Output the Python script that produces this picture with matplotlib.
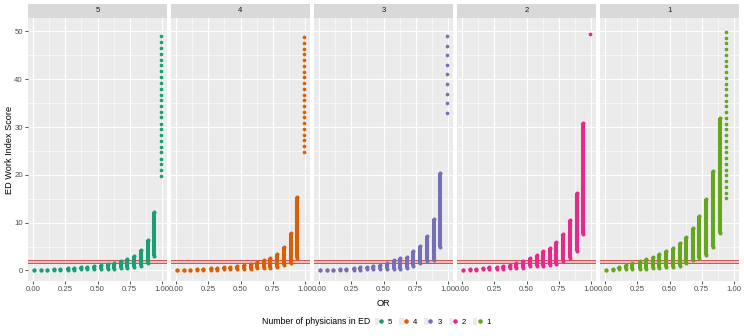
import numpy as np
import matplotlib
matplotlib.use("Agg")
import matplotlib.pyplot as plt
from matplotlib.patches import Patch
from matplotlib.lines import Line2D
from matplotlib.legend_handler import HandlerTuple

plt.rcParams['font.family'] = ['Liberation Sans', 'DejaVu Sans']

# ---------------- data ----------------
panels = ["5", "4", "3", "2", "1"]
colors = ["#1B9E77", "#D95F02", "#7570B3", "#E7298A", "#66A61E"]
or_values = [0.01, 0.06, 0.11, 0.16, 0.21, 0.27, 0.32, 0.37, 0.42, 0.47,
             0.53, 0.58, 0.63, 0.68, 0.73, 0.78, 0.84, 0.89, 0.94, 0.99]

# dense columns: lowest / highest score per OR value (NaN = no dense column)
low_5 = [0.05, 0.08, 0.1, 0.12, 0.15, 0.2, 0.2, 0.25, 0.3, 0.3, 0.35, 0.4, 0.4, 0.45, 0.5, 0.7, 1.0, 1.5, 3.0, np.nan]
high_5 = [0.1, 0.15, 0.2, 0.25, 0.35, 0.45, 0.6, 0.7, 0.8, 1.0, 1.1, 1.3, 1.6, 1.9, 2.4, 3.1, 4.3, 6.3, 12.3, np.nan]
low_4 = [0.05, 0.08, 0.1, 0.12, 0.15, 0.2, 0.2, 0.25, 0.3, 0.3, 0.35, 0.4, 0.45, 0.5, 0.6, 0.8, 1.1, 1.6, 2.6, np.nan]
high_4 = [0.1, 0.15, 0.2, 0.25, 0.35, 0.45, 0.6, 0.7, 0.8, 1.0, 1.2, 1.4, 1.7, 2.1, 2.7, 3.5, 5.0, 7.9, 15.3, np.nan]
low_3 = [0.05, 0.08, 0.1, 0.12, 0.15, 0.2, 0.2, 0.25, 0.3, 0.3, 0.35, 0.35, 0.35, 0.6, 0.85, 1.5, 1.9, 2.1, 4.9, np.nan]
high_3 = [0.1, 0.15, 0.2, 0.3, 0.4, 0.5, 0.65, 0.8, 0.95, 1.2, 1.6, 2.2, 2.6, 2.9, 4.0, 5.2, 7.2, 10.8, 20.3, np.nan]
low_2 = [0.1, 0.15, 0.2, 0.25, 0.3, 0.35, 0.4, 0.45, 0.5, 0.6, 0.85, 0.85, 0.9, 1.1, 1.4, 1.9, 2.6, 4.0, 7.6, np.nan]
high_2 = [0.15, 0.25, 0.35, 0.5, 0.65, 0.8, 1.0, 1.2, 1.5, 1.9, 2.6, 3.3, 4.0, 4.8, 6.0, 7.6, 10.6, 16.2, 30.9, np.nan]
low_1 = [0.1, 0.2, 0.3, 0.3, 0.3, 0.3, 0.4, 0.5, 0.6, 0.7, 0.8, 1.0, 1.5, 2.2, 2.6, 3.3, 5.0, 7.8, np.nan, np.nan]
high_1 = [0.2, 0.4, 0.8, 1.2, 1.6, 2.0, 2.4, 2.8, 3.4, 4.0, 4.8, 5.8, 7.1, 8.8, 11.3, 14.9, 20.7, 31.8, np.nan, np.nan]

# sparse columns: individual scores
sparse_or_5 = 0.99
sparse_5 = [19.8, 21.0, 22.2, 23.4, 24.7, 25.9, 27.1, 28.3, 29.5, 30.7, 32.0, 33.2, 34.4,
            35.6, 36.8, 38.0, 39.2, 40.5, 41.7, 42.9, 44.1, 45.3, 46.5, 47.8, 49.0]
sparse_or_4 = 0.99
sparse_4 = [24.8, 26.0, 27.2, 28.4, 29.6, 30.8, 32.0, 33.2, 34.4, 35.6, 36.8, 38.0, 39.2,
            40.4, 41.6, 42.8, 44.0, 45.2, 46.4, 47.6, 48.8]
sparse_or_3 = 0.99
sparse_3 = [33.0, 35.0, 37.0, 39.0, 41.0, 43.0, 45.0, 47.0, 49.0]
sparse_or_2 = 0.99
sparse_2 = [49.5]
sparse_or_1 = 0.94
sparse_1 = [15.1, 16.3, 17.5, 18.7, 19.9, 21.1, 22.3, 23.5, 24.7, 25.9, 27.1, 28.3, 29.5,
            30.7, 31.9, 33.1, 34.3, 35.5, 36.7, 37.9, 39.1, 40.3, 41.5, 42.7, 43.9, 45.1,
            46.3, 47.5, 48.7, 49.9]

threshold_low = 1.55
threshold_high = 2.15

lows = [low_5, low_4, low_3, low_2, low_1]
highs = [high_5, high_4, high_3, high_2, high_1]
sparse_x = [sparse_or_5, sparse_or_4, sparse_or_3, sparse_or_2, sparse_or_1]
sparse_y = [sparse_5, sparse_4, sparse_3, sparse_2, sparse_1]

x_ticks = [0.0, 0.25, 0.5, 0.75, 1.0]
x_ticklabels = ["0.00", "0.25", "0.50", "0.75", "1.00"]
y_ticks = [0, 10, 20, 30, 40, 50]

# ---------------- figure ----------------
W, H = 744, 336
fig = plt.figure(figsize=(W / 100, H / 100), dpi=100)

panel_left = [28, 171, 314, 457, 600]
panel_w = 139
ax_top = 18
ax_bottom = 281
strip_top = 4

bg = "#EBEBEB"
tick_col = "#4D4D4D"
fs_tick = 5.6
fs_title = 6.6
fs_leg_title = 6.3
lw_col = 2.9          # column width in points
ms_dot = lw_col ** 2  # scatter size for single dots

for i, name in enumerate(panels):
    l = panel_left[i] / W
    b = (H - ax_bottom) / H
    w = panel_w / W
    h = (ax_bottom - ax_top) / H
    ax = fig.add_axes([l, b, w, h])
    ax.set_facecolor(bg)
    ax.set_xlim(-0.039, 1.039)
    ax.set_ylim(-2.2, 52.8)
    ax.set_xticks(x_ticks)
    ax.set_xticks([0.125, 0.375, 0.625, 0.875], minor=True)
    ax.set_yticks(y_ticks)
    ax.set_yticks([5, 15, 25, 35, 45], minor=True)
    ax.grid(which="major", color="white", linewidth=0.8)
    ax.grid(which="minor", color="white", linewidth=0.4)
    ax.set_axisbelow(True)
    for s in ax.spines.values():
        s.set_visible(False)
    ax.tick_params(which="major", length=2.2, width=0.6, color="#333333",
                   labelsize=fs_tick, labelcolor=tick_col, pad=1.5)
    ax.tick_params(which="minor", length=0)
    ax.set_xticklabels(x_ticklabels)
    if i == 0:
        ax.set_yticklabels([str(v) for v in y_ticks])
        ax.set_ylabel("ED Work Index Score", fontsize=fs_title, labelpad=0.5)
    else:
        ax.tick_params(axis="y", which="both", left=False, labelleft=False)

    # threshold band
    ax.axhspan(threshold_low, threshold_high, facecolor="#E8A0A0", alpha=0.6,
               edgecolor="none", zorder=1.5)
    ax.axhline(threshold_low, color="#CC5555", linewidth=0.7, zorder=1.6)
    ax.axhline(threshold_high, color="#CC5555", linewidth=0.7, zorder=1.6)

    c = colors[i]
    lo = np.array(lows[i], dtype=float)
    hi = np.array(highs[i], dtype=float)
    xs = np.array(or_values)
    m = ~np.isnan(lo)
    ax.vlines(xs[m], lo[m], hi[m], colors=c, linewidth=lw_col,
              capstyle="butt", zorder=3)
    ax.scatter(xs[m], lo[m], s=ms_dot, color=c, marker="o", linewidths=0, zorder=3)
    ax.scatter(xs[m], hi[m], s=ms_dot, color=c, marker="o", linewidths=0, zorder=3)
    ax.scatter(np.full(len(sparse_y[i]), sparse_x[i]), sparse_y[i], s=7,
               color=c, marker="o", linewidths=0, zorder=3)

    # strip
    sax = fig.add_axes([l, (H - ax_top) / H, w, (ax_top - strip_top) / H])
    sax.set_facecolor("#D9D9D9")
    sax.set_xticks([])
    sax.set_yticks([])
    for s in sax.spines.values():
        s.set_visible(False)
    sax.text(0.5, 0.5, name, ha="center", va="center", fontsize=fs_tick,
             color="#1A1A1A", transform=sax.transAxes)

# x-axis title
fig.text(383 / W, (H - 303) / H, "OR", ha="center", va="center", fontsize=fs_title)

# legend
handles = [(Patch(facecolor="#EBEBEB", edgecolor="none"),
            Line2D([], [], marker="o", color=c, linestyle="none", markersize=2.3))
           for c in colors]
fig.text(262 / W, (H - 322) / H, "Number of physicians in ED", ha="left", va="center",
         fontsize=fs_leg_title)
fig.legend(handles, panels, ncol=5, loc="center left",
           bbox_to_anchor=(375 / W, (H - 322) / H),
           handler_map={tuple: HandlerTuple(ndivide=None)},
           frameon=False, handlelength=1.1, handleheight=1.1,
           handletextpad=0.6, columnspacing=0.9, fontsize=fs_tick,
           borderpad=0, borderaxespad=0)

fig.savefig("out.png", dpi=100)
